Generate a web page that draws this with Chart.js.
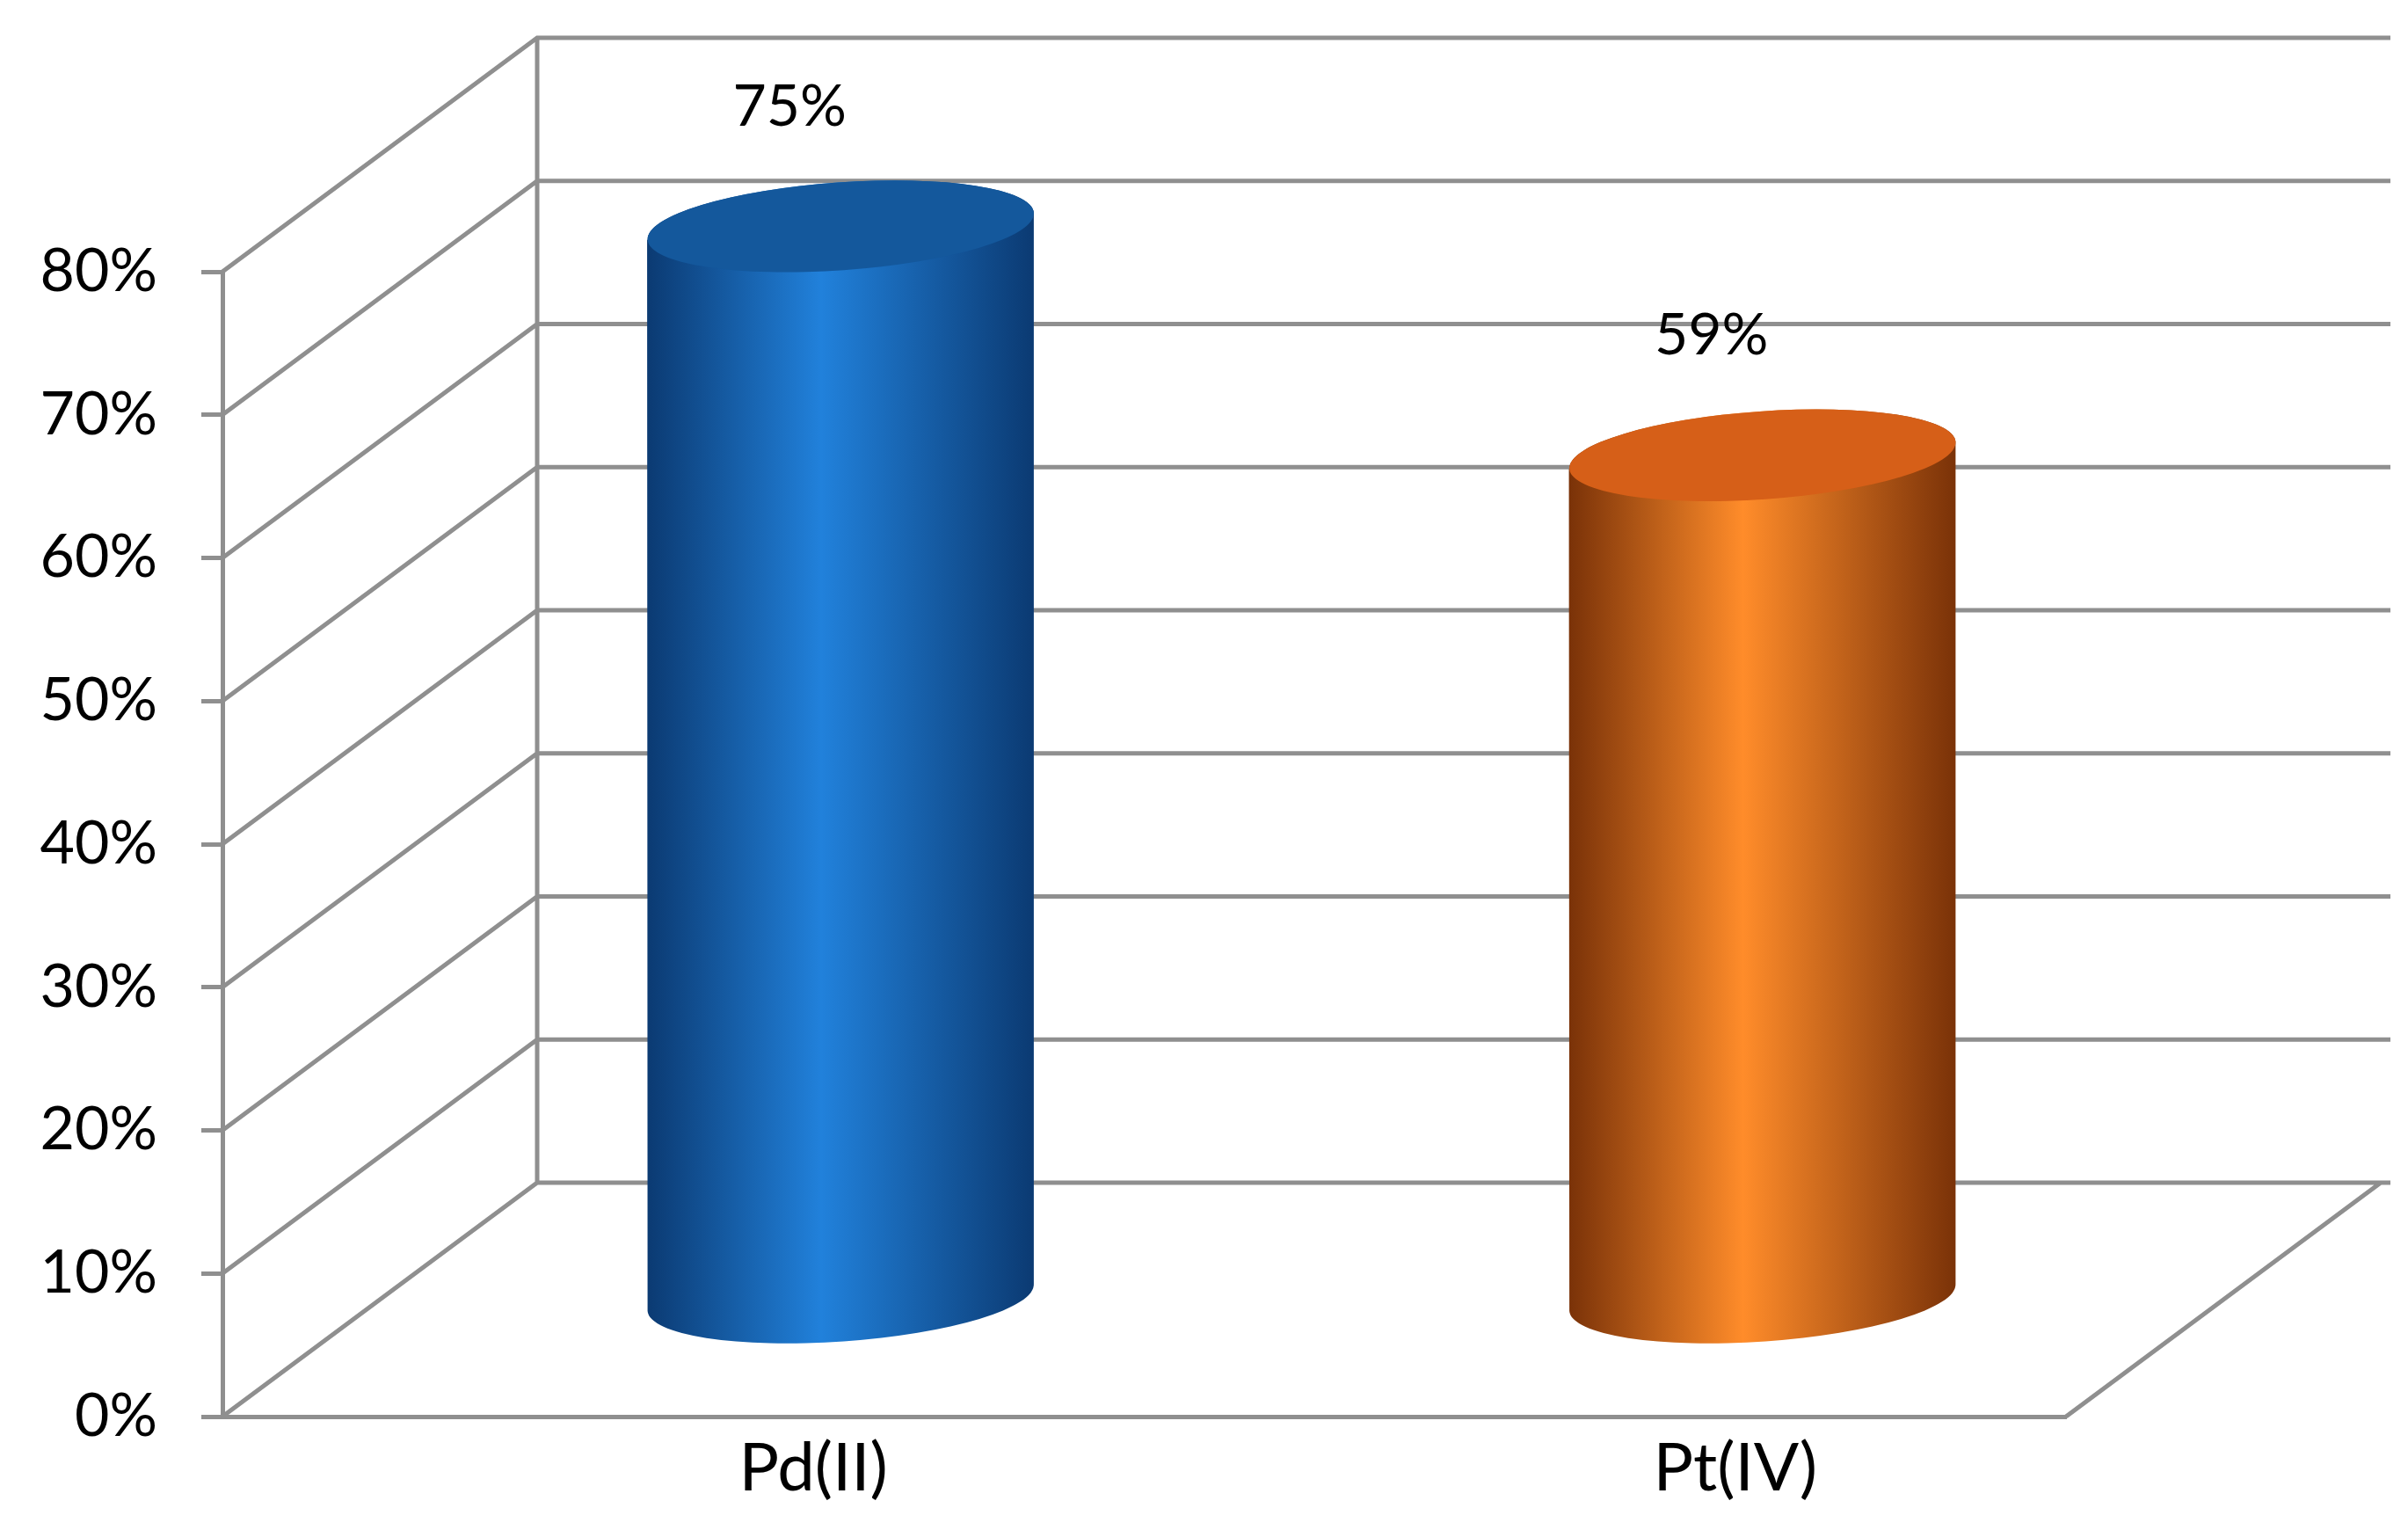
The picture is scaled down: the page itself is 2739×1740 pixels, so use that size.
<!DOCTYPE html>
<html>
<head>
<meta charset="utf-8">
<script src="https://cdn.jsdelivr.net/npm/chart.js@4.4.1/dist/chart.umd.min.js"></script>
<style>body{margin:0;background:#fff}#wrap{width:2739px;height:1740px}</style>
</head>
<body>
<div id="wrap"><canvas id="myChart"></canvas></div>
<script>
// categories and values (percent)
var metals = ['Pd(II)', 'Pt(IV)'];
var recovery = [75, 59];
var bodyColors = [['#0b3a72', '#2181db', '#0b3a72'], ['#7a3208', '#ff8c2a', '#7a3208']];
var topColors = ['#14589c', '#d65f18'];

var DX = 358, DY = -266;   // depth of the 3D box
var lineCol = '#8f8f8f';

var box3d = {
  id: 'box3d',
  beforeDatasetsDraw: function (chart) {
    var c = chart.ctx, y = chart.scales.y, x = chart.scales.x;
    var L = x.left, R = x.right;
    c.save();
    c.strokeStyle = lineCol;
    c.lineWidth = 5;
    c.beginPath();
    for (var v = 0; v <= 80; v += 10) {
      var py = y.getPixelForValue(v);
      c.moveTo(L, py); c.lineTo(L + DX, py + DY); c.lineTo(chart.width - 20, py + DY);
    }
    var p0 = y.getPixelForValue(0), p80 = y.getPixelForValue(80);
    c.moveTo(L + DX, p0 + DY); c.lineTo(L + DX, p80 + DY);
    c.moveTo(R, p0); c.lineTo(R + DX, p0 + DY);
    c.stroke();
    c.restore();
  },
  afterDatasetsDraw: function (chart) {
    var c = chart.ctx;
    var meta = chart.getDatasetMeta(0);
    meta.data.forEach(function (bar, i) {
      var cx = bar.x + DX / 2, top = bar.y + DY / 2, base = bar.base + DY / 2;
      var w = bar.width, rx = w / 2, ry = 50, rot = -0.07;
      var lft = cx - rx, rgt = cx + rx;
      var g = c.createLinearGradient(lft, 0, rgt, 0);
      g.addColorStop(0, bodyColors[i][0]);
      g.addColorStop(0.45, bodyColors[i][1]);
      g.addColorStop(1, bodyColors[i][2]);
      c.save();
      c.fillStyle = g;
      c.beginPath();
      c.ellipse(cx, base, rx, ry, rot, 0, Math.PI, false);
      c.lineTo(lft, top + rx * Math.sin(rot) * -1);
      c.ellipse(cx, top, rx, ry, rot, Math.PI, 0, false);
      c.closePath();
      c.fill();
      c.fillStyle = topColors[i];
      c.beginPath();
      c.ellipse(cx, top, rx, ry, rot, 0, Math.PI * 2);
      c.fill();
      c.fillStyle = '#000';
      c.font = '66px Lato';
      c.textAlign = 'center';
      c.textBaseline = 'middle';
      c.fillText(recovery[i] + '%', cx - 58, top - 136);
      c.restore();
    });
  }
};

new Chart(document.getElementById('myChart'), {
  type: 'bar',
  data: {
    labels: metals,
    datasets: [{ data: recovery, backgroundColor: 'rgba(0,0,0,0)', barPercentage: 0.42, categoryPercentage: 1 }]
  },
  options: {
    responsive: true,
    maintainAspectRatio: false,
    animation: false,
    layout: { padding: { top: 309, right: 389, left: 0, bottom: 0 } },
    plugins: { legend: { display: false }, tooltip: { enabled: false } },
    scales: {
      x: {
        grid: { display: false },
        border: { color: lineCol, width: 5 },
        ticks: { color: '#000', font: { family: 'Lato', size: 76 }, labelOffset: 148, padding: 6 },
        afterFit: function (s) { s.height = 129; }
      },
      y: {
        min: 0, max: 80,
        grid: { drawOnChartArea: false, drawTicks: true, tickLength: 24, color: lineCol, lineWidth: 5 },
        border: { color: lineCol, width: 5 },
        ticks: { stepSize: 10, color: '#000', font: { family: 'Lato', size: 68 }, padding: 50,
                 callback: function (v) { return v + '%'; } },
        afterFit: function (s) { s.width = 253; }
      }
    }
  },
  plugins: [box3d]
});
</script>
</body>
</html>
